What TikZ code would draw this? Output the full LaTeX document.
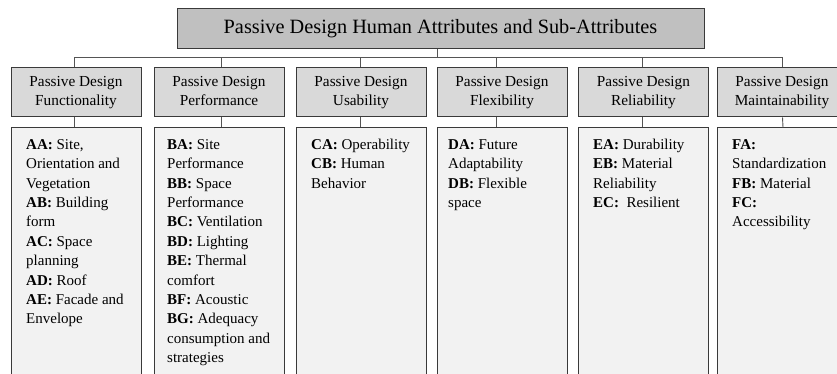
\documentclass[tikz,border=0pt]{standalone}
\usepackage{fontspec}
\setmainfont{Liberation Serif}
\definecolor{boxline}{HTML}{3A3A3A}
\definecolor{linkgray}{HTML}{555555}
\definecolor{titlegray}{HTML}{C0C0C0}
\definecolor{headgray}{HTML}{D9D9D9}
\definecolor{listgray}{HTML}{F2F2F2}
\begin{document}
\begin{tikzpicture}[x=1pt,y=-1pt,
  titlebox/.style={draw=boxline, fill=titlegray, line width=1pt,
    minimum width=527pt, minimum height=40pt, inner sep=0pt,
    font=\fontsize{20.3}{24}\selectfont},
  headbox/.style={draw=boxline, fill=headgray, line width=1pt,
    minimum width=130pt, minimum height=49pt, inner sep=0pt, align=center,
    font=\fontsize{15.3}{19}\selectfont},
  listbox/.style={draw=boxline, fill=listgray, line width=1pt,
    minimum width=130pt, minimum height=260pt, inner sep=0pt},
  listtext/.style={anchor=north west, inner sep=0pt, align=left,
    font=\fontsize{15}{19.4}\selectfont},
  link/.style={draw=linkgray, line width=0.9pt}
]
\useasboundingbox (0,0) rectangle (837,374);
\clip (0,0) rectangle (837,374);

% title
\node[titlebox] (top) at (440.5,29) {Passive Design Human Attributes and Sub-Attributes};

% attribute headers (struts keep both lines at the same height in every box)
\node[headbox] (h1) at (76,92.5)    {\strut Passive Design\\Functionality\strut};
\node[headbox] (h2) at (219,92.5)   {\strut Passive Design\\Performance\strut};
\node[headbox] (h3) at (361,92.5)   {\strut Passive Design\\Usability\strut};
\node[headbox] (h4) at (502,92.5)   {\strut Passive Design\\Flexibility\strut};
\node[headbox] (h5) at (643.5,92.5) {\strut Passive Design\\Reliability\strut};
\node[headbox] (h6) at (782,92.5)   {\strut Passive Design\\Maintainability\strut};

% sub-attribute panels
\node[listbox] (l1) at (76,258) {};
\node[listbox] (l2) at (219,258) {};
\node[listbox] (l3) at (361,258) {};
\node[listbox] (l4) at (502,258) {};
\node[listbox] (l5) at (643.5,258) {};
\node[listbox] (l6) at (782.5,258) {};

\node[listtext] (t1) at (26,135.5) {\strut\textbf{AA:} Site,\\Orientation and\\Vegetation\\\textbf{AB:} Building\\form\\\textbf{AC:} Space\\planning\\\textbf{AD:} Roof\\\textbf{AE:} Facade and\\Envelope};
\node[listtext] (t2) at (167,135.5) {\strut\textbf{BA:} Site\\Performance\\\textbf{BB:} Space\\Performance\\\textbf{BC:} Ventilation\\\textbf{BD:} Lighting\\\textbf{BE:} Thermal\\comfort\\\textbf{BF:} Acoustic\\\textbf{BG:} Adequacy\\consumption and\\strategies};
\node[listtext] (t3) at (311,135.5) {\strut\textbf{CA:} Operability\\\textbf{CB:} Human\\Behavior};
\node[listtext] (t4) at (448,135.5) {\strut\textbf{DA:} Future\\Adaptability\\\textbf{DB:} Flexible\\space};
\node[listtext] (t5) at (593,135.5) {\strut\textbf{EA:} Durability\\\textbf{EB:} Material\\Reliability\\\textbf{EC:}\ \ Resilient};
\node[listtext] (t6) at (732,135.5) {\strut\textbf{FA:}\\Standardization\\\textbf{FB:} Material\\\textbf{FC:}\\Accessibility};

% tree connectors
\coordinate (bar) at (437,57.5);
\draw[link] ([xshift=-3.5pt]top.south) -- (bar);
\draw[link] ([xshift=-2pt]h1.north) |- (bar) -| ([xshift=0.5pt]h6.north);
\draw[link] ([xshift=2pt]h2.north) -- ([xshift=2pt]h2.north |- bar);
\draw[link] ([xshift=-1pt]h3.north) -- ([xshift=-1pt]h3.north |- bar);
\draw[link] ([xshift=-5.5pt]h4.north) -- ([xshift=-5.5pt]h4.north |- bar);
\draw[link] ([xshift=-1pt]h5.north) -- ([xshift=-1pt]h5.north |- bar);

\draw[link] ([xshift=-2pt]h1.south) -- ([xshift=-2pt]l1.north);
\draw[link] ([xshift=2pt]h2.south) -- ([xshift=2pt]l2.north);
\draw[link] ([xshift=-1pt]h3.south) -- ([xshift=-1pt]l3.north);
\draw[link] ([xshift=-5.5pt]h4.south) -- ([xshift=-5.5pt]l4.north);
\draw[link] ([xshift=-1pt]h5.south) -- ([xshift=-1pt]l5.north);
\draw[link] ([xshift=0.5pt]h6.south) -- ([xshift=0.5pt]l6.north);
\end{tikzpicture}
\end{document}
